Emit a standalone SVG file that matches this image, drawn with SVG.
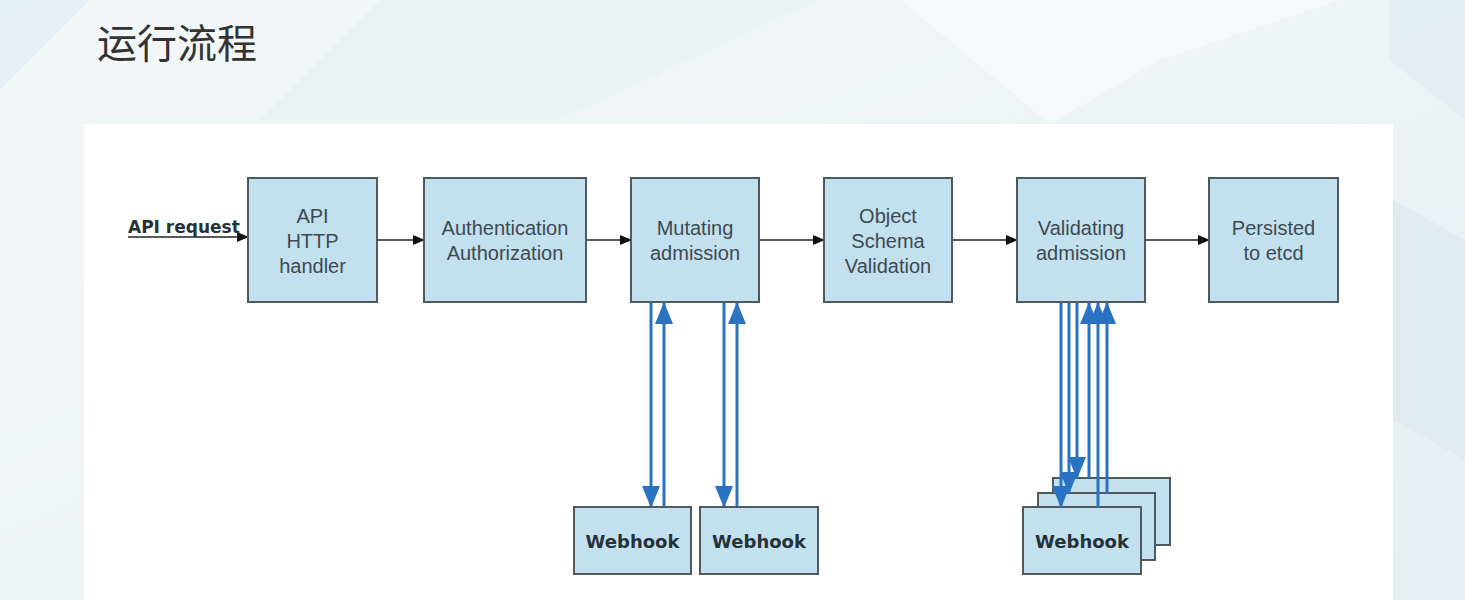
<svg xmlns="http://www.w3.org/2000/svg" width="1465" height="600" viewBox="0 0 1465 600">
<defs>
<linearGradient id="bg" x1="0" y1="0" x2="1" y2="1">
<stop offset="0" stop-color="#f3f7f8"/>
<stop offset="0.5" stop-color="#eef3f5"/>
<stop offset="1" stop-color="#e6eef2"/>
</linearGradient>
<marker id="ab" markerWidth="12" markerHeight="10" refX="11" refY="5" orient="auto" markerUnits="userSpaceOnUse">
<path d="M0,0 L12,5 L0,10 Z" fill="#111"/>
</marker>
<marker id="bb" markerWidth="22" markerHeight="18" refX="21" refY="9" orient="auto" markerUnits="userSpaceOnUse">
<path d="M0,0 L22,9 L0,18 Z" fill="#2a72c2"/>
</marker>
</defs>
<style>
.box{fill:#c3e0ee;stroke:#4f5a60;stroke-width:2}
.t{font-family:"Liberation Sans",Arial,sans-serif;font-size:20px;fill:#3d4a52;text-anchor:middle}
.wh{font-family:"DejaVu Sans","Liberation Sans",sans-serif;font-size:18px;font-weight:bold;fill:#25323a;text-anchor:middle}
.k{stroke:#222;stroke-width:1.5;fill:none;marker-end:url(#ab)}
.b{stroke:#2a72c2;stroke-width:3;fill:none;marker-end:url(#bb)}
</style>
<rect width="1465" height="600" fill="url(#bg)"/>
<polygon points="380,0 820,0 560,120 260,120" fill="#e9f1f1" opacity="0.8"/>
<polygon points="900,0 1340,0 1160,60 1050,124" fill="#f6f8f9" opacity="0.9"/>
<polygon points="1390,0 1465,0 1465,120 1390,60" fill="#dfe9ef" opacity="0.7"/>
<polygon points="1393,200 1465,240 1465,460 1393,420" fill="#dde8ee" opacity="0.8"/>
<polygon points="0,0 90,0 0,90" fill="#e3eef4" opacity="0.8"/>
<text x="97" y="58" font-family="'Noto Sans CJK SC',sans-serif" font-size="40" fill="#333">运行流程</text>
<rect x="84" y="124" width="1309" height="476" fill="#ffffff"/>

<g id="connectors">
<line x1="128" y1="237" x2="248" y2="237" class="k"/>
<line x1="377" y1="240" x2="424" y2="240" class="k"/>
<line x1="586" y1="240" x2="631" y2="240" class="k"/>
<line x1="759" y1="240" x2="824" y2="240" class="k"/>
<line x1="952" y1="240" x2="1017" y2="240" class="k"/>
<line x1="1145" y1="240" x2="1209" y2="240" class="k"/>
<line x1="651" y1="303" x2="651" y2="507" class="b"/>
<line x1="664" y1="507" x2="664" y2="303" class="b"/>
<line x1="724" y1="303" x2="724" y2="507" class="b"/>
<line x1="737" y1="507" x2="737" y2="303" class="b"/>
</g>

<g id="api-request-label">
<text x="128" y="233" font-family="'DejaVu Sans','Liberation Sans',sans-serif" font-size="17" font-weight="bold" fill="#25323a">API request</text>
</g>

<g id="api-http-handler">
<rect class="box" x="248" y="178" width="129" height="124"/>
<text class="t" x="312.5" y="223">API</text>
<text class="t" x="312.5" y="248">HTTP</text>
<text class="t" x="312.5" y="273">handler</text>
</g>
<g id="authn-authz">
<rect class="box" x="424" y="178" width="162" height="124"/>
<text class="t" x="505" y="235">Authentication</text>
<text class="t" x="505" y="260">Authorization</text>
</g>
<g id="mutating-admission">
<rect class="box" x="631" y="178" width="128" height="124"/>
<text class="t" x="695" y="235">Mutating</text>
<text class="t" x="695" y="260">admission</text>
</g>
<g id="object-schema-validation">
<rect class="box" x="824" y="178" width="128" height="124"/>
<text class="t" x="888" y="223">Object</text>
<text class="t" x="888" y="248">Schema</text>
<text class="t" x="888" y="273">Validation</text>
</g>
<g id="validating-admission">
<rect class="box" x="1017" y="178" width="128" height="124"/>
<text class="t" x="1081" y="235">Validating</text>
<text class="t" x="1081" y="260">admission</text>
</g>
<g id="persisted-etcd">
<rect class="box" x="1209" y="178" width="129" height="124"/>
<text class="t" x="1273.5" y="235">Persisted</text>
<text class="t" x="1273.5" y="260">to etcd</text>
</g>

<g id="webhook-1">
<rect class="box" x="574" y="507" width="117" height="67"/>
<text class="wh" x="632.5" y="548">Webhook</text>
</g>
<g id="webhook-2">
<rect class="box" x="700" y="507" width="118" height="67"/>
<text class="wh" x="759" y="548">Webhook</text>
</g>

<g id="webhook-stack">
<rect class="box" x="1053" y="478" width="117" height="67"/>
<rect class="box" x="1038" y="493" width="117" height="67"/>
<rect class="box" x="1023" y="507" width="118" height="67"/>
<text class="wh" x="1082" y="548">Webhook</text>
</g>

<g id="connectors-validating">
<line x1="1061" y1="303" x2="1061" y2="507" class="b"/>
<line x1="1069" y1="303" x2="1069" y2="493" class="b"/>
<line x1="1077" y1="303" x2="1077" y2="478" class="b"/>
<line x1="1089" y1="478" x2="1089" y2="303" class="b"/>
<line x1="1098" y1="507" x2="1098" y2="303" class="b"/>
<line x1="1107" y1="493" x2="1107" y2="303" class="b"/>
</g>
</svg>
